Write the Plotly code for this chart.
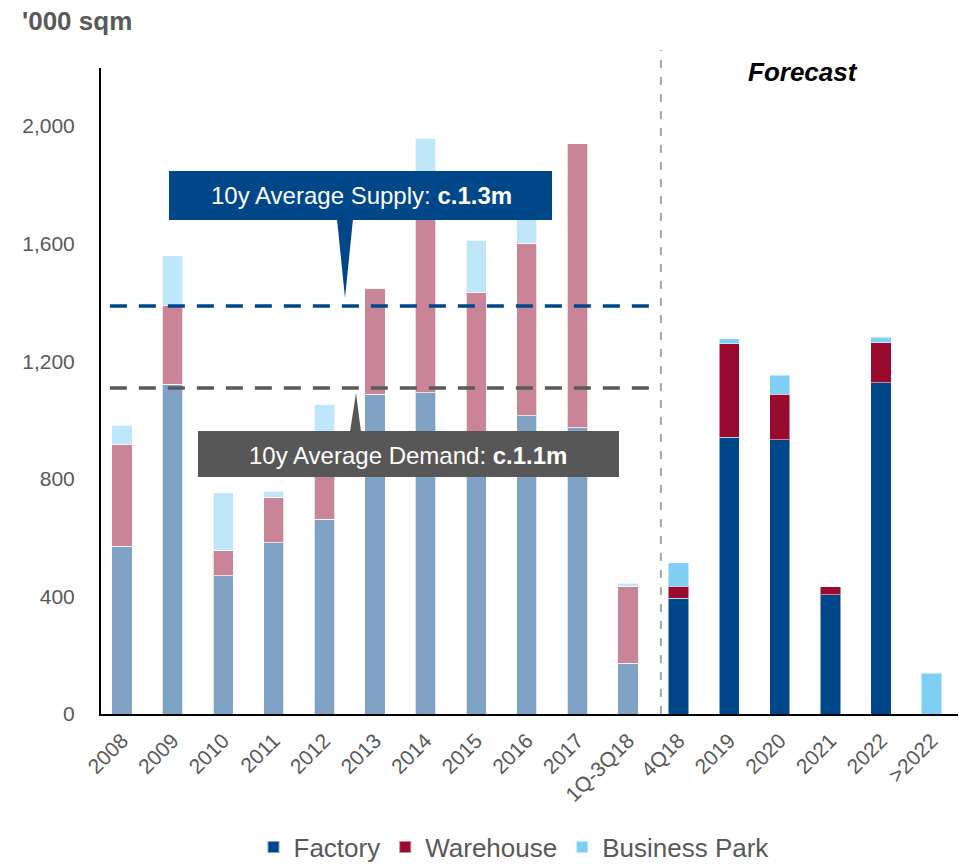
import plotly.graph_objects as go

categories = ["2008", "2009", "2010", "2011", "2012", "2013", "2014", "2015", "2016", "2017",
              "1Q-3Q18", "4Q18", "2019", "2020", "2021", "2022", ">2022"]
factory = [571, 1122, 470, 582, 663, 1088, 1092, 881, 1014, 973, 173, 394, 942, 932, 405, 1126, 0]
warehouse = [344, 269, 85, 156, 270, 358, 688, 554, 585, 966, 262, 41, 317, 156, 27, 136, 0]
business_park = [68, 167, 198, 20, 121, 3, 179, 177, 181, 0, 10, 79, 17, 65, 0, 20, 139]
n_hist = 11  # 2008 .. 1Q-3Q18 are historical
avg_supply = 1388
avg_demand = 1109
y_ticks = [0, 400, 800, 1200, 1600, 2000]

FONT = "Liberation Sans, Arial, sans-serif"
GREY = "#595959"
full_cols = {"Factory": "#00478A", "Warehouse": "#990A2F", "Business Park": "#7FCEF4"}
light_cols = {"Factory": "#80A3C5", "Warehouse": "#CA8497", "Business Park": "#BFE6F9"}

# plot area in pixels
L, R, T, B = 101, 958, 68, 714
W, H = 959, 866
def px(x):
    return (x - L) / (R - L)
def py(y):
    return (B - y) / (B - T)

fig = go.Figure()
series = [("Factory", factory), ("Warehouse", warehouse), ("Business Park", business_park)]
for name, vals in series:
    fig.add_trace(go.Bar(
        x=categories[:n_hist], y=vals[:n_hist], name=name, showlegend=False,
        legendgroup=name, marker=dict(color=light_cols[name],
                                      line=dict(color="rgba(255,255,255,0.7)", width=1)),
        width=0.4, hoverinfo="x+y+name"))
for name, vals in series:
    fig.add_trace(go.Bar(
        x=categories[n_hist:], y=vals[n_hist:], name=name, showlegend=True,
        legendgroup=name, marker=dict(color=full_cols[name],
                                      line=dict(color="rgba(255,255,255,0.5)", width=1)),
        width=0.4, hoverinfo="x+y+name"))

shapes = []
# average lines
shapes.append(dict(type="line", xref="x", yref="y", x0=-0.24, x1=10.45, y0=avg_supply, y1=avg_supply,
                   line=dict(color="#00478A", width=3.5, dash="17px,12px")))
shapes.append(dict(type="line", xref="x", yref="y", x0=-0.24, x1=10.45, y0=avg_demand, y1=avg_demand,
                   line=dict(color="#595959", width=3.5, dash="17px,12px")))
# forecast divider
shapes.append(dict(type="line", xref="x", yref="paper", x0=10.65, x1=10.65, y0=0, y1=py(50),
                   line=dict(color="#A6A6A6", width=2, dash="8px,9px")))
# supply box + pointer
shapes.append(dict(type="rect", xref="paper", yref="paper", x0=px(169), x1=px(552), y0=py(220), y1=py(171),
                   fillcolor="#00478A", line=dict(width=0)))
shapes.append(dict(type="path", xref="paper", yref="paper",
                   path=f"M{px(337)},{py(219)} L{px(353)},{py(219)} L{px(345)},{py(298)} Z",
                   fillcolor="#00478A", line=dict(width=0)))
# demand box + pointer
shapes.append(dict(type="rect", xref="paper", yref="paper", x0=px(198), x1=px(619), y0=py(477), y1=py(431),
                   fillcolor="#575757", line=dict(width=0)))
shapes.append(dict(type="path", xref="paper", yref="paper",
                   path=f"M{px(350)},{py(432)} L{px(361)},{py(432)} L{px(356)},{py(393)} Z",
                   fillcolor="#575757", line=dict(width=0)))

annotations = [
    dict(text="<b>'000 sqm</b>", xref="paper", yref="paper", x=px(20), y=py(21), xanchor="left",
         yanchor="middle", showarrow=False, font=dict(family=FONT, size=26, color=GREY)),
    dict(text="<b><i>Forecast</i></b>", xref="paper", yref="paper", x=px(803), y=py(72), xanchor="center",
         yanchor="middle", showarrow=False, font=dict(family=FONT, size=26, color="#000000")),
    dict(text="10y Average Supply: <b>c.1.3m</b>", xref="paper", yref="paper", x=px(361), y=py(196),
         xanchor="center", yanchor="middle", showarrow=False,
         font=dict(family=FONT, size=24, color="#FFFFFF")),
    dict(text="10y Average Demand: <b>c.1.1m</b>", xref="paper", yref="paper", x=px(408), y=py(455),
         xanchor="center", yanchor="middle", showarrow=False,
         font=dict(family=FONT, size=24, color="#FFFFFF")),
]

x_lo = -21 / 50.6
x_hi = x_lo + (R - L) / 50.6
y_hi = (B - T) / ((B - 126) / 2000)

fig.update_layout(
    width=W, height=H,
    margin=dict(l=L, r=W - R, t=T, b=H - B, autoexpand=False),
    paper_bgcolor="white", plot_bgcolor="white",
    barmode="stack",
    font=dict(family=FONT, color=GREY),
    shapes=shapes, annotations=annotations,
    showlegend=True,
    legend=dict(orientation="h", x=px(514), y=py(847), xanchor="center", yanchor="middle",
                font=dict(family=FONT, size=26, color=GREY), traceorder="normal",
                itemsizing="constant", itemwidth=30, bgcolor="rgba(0,0,0,0)"),
    xaxis=dict(type="category", categoryorder="array", categoryarray=categories,
               range=[x_lo, x_hi], showgrid=False, zeroline=False, automargin=False,
               showline=True, linecolor="#000000", linewidth=2, ticks="",
               tickangle=-45, tickfont=dict(family=FONT, size=21, color=GREY),
               ticklabelstandoff=4, fixedrange=True),
    yaxis=dict(range=[0, y_hi], tickvals=y_ticks, ticktext=[f"{v:,}" for v in y_ticks],
               showgrid=False, zeroline=False, showline=True, linecolor="#000000", linewidth=2,
               automargin=False,
               ticks="", tickfont=dict(family=FONT, size=21, color=GREY),
               ticklabelstandoff=20, fixedrange=True),
)

fig.write_html("out.html")
